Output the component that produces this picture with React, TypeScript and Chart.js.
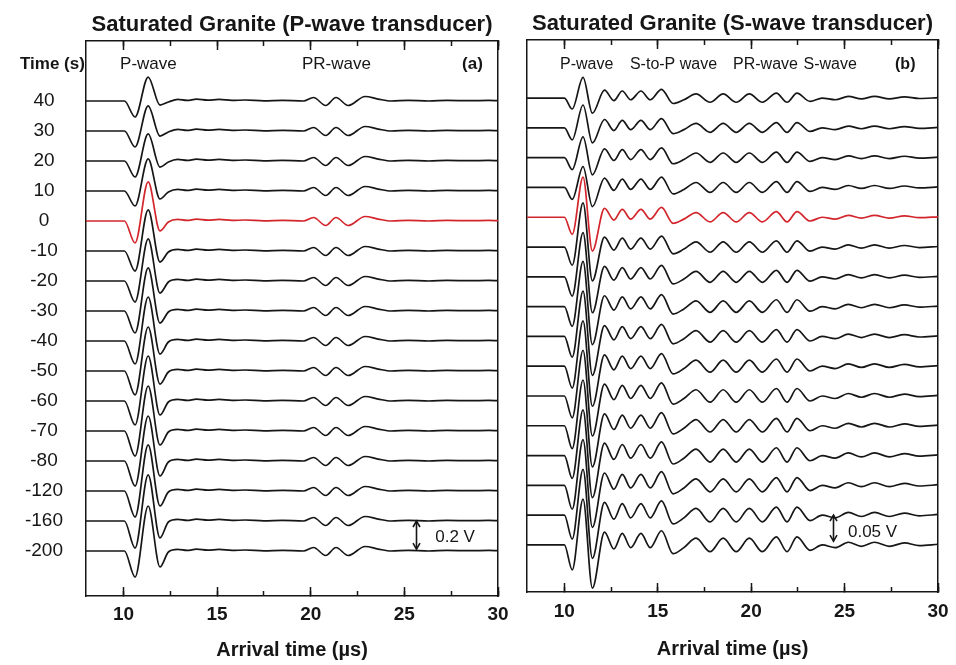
import React, { useEffect, useRef } from "react";
import { Chart, registerables } from "chart.js";

Chart.register(...registerables);

const FF = "'Liberation Sans', Arial, Helvetica, sans-serif";
const INK = "#161616";
const RED = "#d3262c";

// ---------- shared ----------
const timeLabels = ["40", "30", "20", "10", "0", "-10", "-20", "-30", "-40", "-50", "-60", "-70", "-80", "-120", "-160", "-200"];
const redTrace = 4; // the "0 s" trace
const xMin = 8;
const xMax = 30;
const xMajorStep = 5;
const xMinorStep = 2.5;

// ---------- panel (a): P-wave transducer (amplitudes in mV) ----------
const leftTitle = "Saturated Granite (P-wave transducer)";
const leftSpacingMv = 214;
const leftScaleBarMv = 200;
const leftTimes = [8, 10.05, 10.62, 11.32, 11.95, 12.4, 12.9, 13.4, 13.9, 14.5, 15.1, 15.8, 16.5, 17.5, 18.5, 19.6, 20.15, 20.8, 21.35, 22.0, 22.9, 23.6, 24.3, 25.2, 26.3, 27.3, 28.5, 29.5, 30];
const leftTroughMv = [114, 114, 114, 107, 157, 143, 150, 157, 164, 171, 171, 179, 179, 186, 193, 186];
const leftPeakMv = [171, 179, 193, 229, 279, 293, 300, 307, 314, 314, 321, 321, 321, 329, 329, 321];
const leftUndershootMv = [29, 36, 43, 57, 71, 79, 86, 86, 93, 93, 100, 100, 107, 107, 121, 114];
const leftCodaMv = [-7, 11, 4, 13, 6, 11, 4, 7, 1, 4, 0, 25, -32, 25, -32, 32, 14, 0, 4, 0, 4, 2, 4, 2];

// ---------- panel (b): S-wave transducer (amplitudes in mV) ----------
const rightTitle = "Saturated Granite (S-wave transducer)";
const rightSpacingMv = 57.3;
const rightScaleBarMv = 50;
const rightTimes = [8, 10.0, 10.42, 11.0, 11.5, 12.15, 12.65, 13.1, 13.55, 14.1, 14.6, 15.2, 15.82, 16.4, 17.05, 17.8, 18.5, 19.2, 19.9, 20.6, 21.35, 21.92, 22.45, 23.15, 23.8, 24.5, 25.2, 25.9, 26.6, 27.4, 28.2, 29.0, 30];
const rightTroughMv = [21, 23, 23, 23, 33, 35, 37, 38, 40, 42, 42, 44, 44, 46, 46, 48];
const rightPeakMv = [40, 44, 40, 40, 77, 85, 85, 87, 87, 87, 88, 88, 88, 88, 88, 88];
const rightTrough2Mv = [29, 29, 33, 37, 65, 65, 69, 73, 75, 77, 77, 79, 81, 81, 83, 83];
const rightCodaMv = [19, -6, 17, -4, 17, -4, 21, -13, -4, 10, -10, 10, -10, 10, -10, 12, -10, 12, -8, 0, -4, 4, -2, 4, -2, 3, -1, 1];
const rightCodaGain = [0.8, 0.85, 0.9, 0.95, 0.9, 1.0, 1.05, 1.1, 1.1, 1.15, 1.2, 1.2, 1.25, 1.25, 1.3, 1.3];

function buildDatasets(times: number[], amps: number[][], spacing: number) {
  return amps.map((a, i) => ({
    label: timeLabels[i] + " s",
    data: times.map((t, k) => ({ x: t, y: -i * spacing + a[k] })),
    borderColor: i === redTrace ? RED : INK,
    borderWidth: 1.7,
    pointRadius: 0,
    fill: false,
    cubicInterpolationMode: "monotone",
  }));
}

const leftAmps = timeLabels.map((_, i) => [0, 0, -leftTroughMv[i], leftPeakMv[i], -leftUndershootMv[i], ...leftCodaMv]);
const rightAmps = timeLabels.map((_, i) => [0, 0, -rightTroughMv[i], rightPeakMv[i], -rightTrough2Mv[i], ...rightCodaMv.map((v) => v * rightCodaGain[i])]);

type Label = { text: string; x: number; bold?: boolean };

type Spec = {
  datasets: any[];
  spacing: number;
  yTopSpacings: number;
  yBottomSpacings: number;
  padLeft: number;
  padRight: number;
  leftW: number;
  topH: number;
  bottomH: number;
  xTickPad: number;
  xTitlePad: number;
  showYLabels: boolean;
  title: string;
  titleBaseline: number;
  labels: Label[];
  labelSize: number;
  scaleBarX: number;
  scaleBarMv: number;
  scaleBarText: string;
  scaleBarTextX: number;
  scaleBarTextDy: number;
};

function arrowHead(ctx: CanvasRenderingContext2D, x: number, y: number, dir: number) {
  ctx.beginPath();
  ctx.moveTo(x - 3.5, y + dir * 6);
  ctx.lineTo(x, y);
  ctx.lineTo(x + 3.5, y + dir * 6);
  ctx.stroke();
}

function fixSize(s: any, w: number | null, h: number | null) {
  if (w !== null) s.width = w;
  if (h !== null) s.height = h;
  s.paddingLeft = 0;
  s.paddingRight = 0;
  s.paddingTop = 0;
  s.paddingBottom = 0;
}

function makeConfig(p: Spec): any {
  const yMax = p.yTopSpacings * p.spacing;
  const yMin = -(15 + p.yBottomSpacings) * p.spacing;
  const annot = {
    id: "annot",
    afterDraw(chart: any) {
      const { ctx, chartArea, scales } = chart;
      const xs = scales.x;
      const ys = scales.y;
      ctx.save();
      ctx.fillStyle = INK;
      ctx.textBaseline = "alphabetic";
      ctx.textAlign = "center";
      ctx.font = `bold 22px ${FF}`;
      ctx.fillText(p.title, (chartArea.left + chartArea.right) / 2, p.titleBaseline);
      ctx.textAlign = "left";
      if (p.showYLabels) {
        ctx.font = `bold 17px ${FF}`;
        ctx.fillText("Time (s)", 20, 69);
      }
      for (const l of p.labels) {
        ctx.font = `${l.bold ? "bold " : ""}${p.labelSize}px ${FF}`;
        ctx.fillText(l.text, xs.getPixelForValue(l.x), 69);
      }
      // scale bar
      const base = -14 * p.spacing;
      const ax = Math.round(xs.getPixelForValue(p.scaleBarX)) + 0.5;
      const y1 = ys.getPixelForValue(base);
      const y2 = ys.getPixelForValue(base - p.scaleBarMv);
      ctx.strokeStyle = INK;
      ctx.lineWidth = 1.6;
      ctx.beginPath();
      ctx.moveTo(ax, y1);
      ctx.lineTo(ax, y2);
      ctx.stroke();
      arrowHead(ctx, ax, y1, 1);
      arrowHead(ctx, ax, y2, -1);
      ctx.font = `17px ${FF}`;
      ctx.textBaseline = "middle";
      ctx.fillText(p.scaleBarText, xs.getPixelForValue(p.scaleBarTextX), (y1 + y2) / 2 + p.scaleBarTextDy);
      ctx.restore();
    },
  };

  const tickFont = { family: FF, size: 19, weight: "bold" };
  return {
    type: "line",
    data: { datasets: p.datasets },
    options: {
      animation: false,
      responsive: false,
      devicePixelRatio: 1,
      layout: { padding: { left: p.padLeft, right: p.padRight, top: 0, bottom: 0 } },
      plugins: { legend: { display: false }, tooltip: { enabled: false }, title: { display: false } },
      scales: {
        x: {
          type: "linear",
          position: "bottom",
          weight: 1,
          min: xMin,
          max: xMax,
          ticks: { stepSize: xMajorStep, includeBounds: false, autoSkip: false, maxRotation: 0, font: tickFont, color: INK, padding: p.xTickPad },
          grid: { drawOnChartArea: false, tickLength: -9, tickWidth: 1.5, tickColor: INK },
          border: { display: true, color: INK, width: 1.5 },
          title: { display: true, text: "Arrival time (µs)", color: INK, font: { family: FF, size: 20, weight: "bold" }, padding: { top: 0, bottom: p.xTitlePad } },
          afterFit: (s: any) => fixSize(s, null, p.bottomH),
        },
        xMinor: {
          type: "linear",
          position: "bottom",
          weight: 0,
          min: xMin,
          max: xMax,
          ticks: { stepSize: xMinorStep, includeBounds: false, autoSkip: false, display: false },
          grid: { drawOnChartArea: false, tickLength: -5, tickWidth: 1.5, tickColor: INK },
          border: { display: false },
          afterFit: (s: any) => fixSize(s, null, 0),
        },
        xTop: {
          type: "linear",
          position: "top",
          weight: 1,
          min: xMin,
          max: xMax,
          ticks: { stepSize: xMajorStep, includeBounds: false, autoSkip: false, display: false },
          grid: { drawOnChartArea: false, tickLength: -9, tickWidth: 1.5, tickColor: INK },
          border: { display: true, color: INK, width: 1.5 },
          afterFit: (s: any) => fixSize(s, null, p.topH),
        },
        xTopMinor: {
          type: "linear",
          position: "top",
          weight: 0,
          min: xMin,
          max: xMax,
          ticks: { stepSize: xMinorStep, includeBounds: false, autoSkip: false, display: false },
          grid: { drawOnChartArea: false, tickLength: -5, tickWidth: 1.5, tickColor: INK },
          border: { display: false },
          afterFit: (s: any) => fixSize(s, null, 0),
        },
        y: {
          type: "linear",
          position: "left",
          min: yMin,
          max: yMax,
          afterBuildTicks: (s: any) => {
            s.ticks = timeLabels.map((_, i) => ({ value: -i * p.spacing }));
          },
          ticks: {
            display: p.showYLabels,
            autoSkip: false,
            crossAlign: "center",
            padding: 23,
            color: INK,
            font: { family: FF, size: 19 },
            callback: (_v: any, i: number) => timeLabels[i],
          },
          grid: { display: false, drawTicks: false },
          border: { display: true, color: INK, width: 1.5 },
          afterFit: (s: any) => fixSize(s, p.leftW, null),
        },
        yRight: {
          type: "linear",
          position: "right",
          ticks: { display: false },
          grid: { display: false, drawTicks: false },
          border: { display: true, color: INK, width: 1.5 },
          afterFit: (s: any) => fixSize(s, 0, null),
        },
      },
    },
    plugins: [annot],
  };
}

const leftSpec: Spec = {
  datasets: buildDatasets(leftTimes, leftAmps, leftSpacingMv),
  spacing: leftSpacingMv,
  yTopSpacings: 2.0,
  yBottomSpacings: 1.5,
  padLeft: 0,
  padRight: 12,
  leftW: 86,
  topH: 41,
  bottomH: 69,
  xTickPad: 16,
  xTitlePad: 3,
  showYLabels: true,
  title: leftTitle,
  titleBaseline: 31,
  labels: [
    { text: "P-wave", x: 9.82 },
    { text: "PR-wave", x: 19.53 },
    { text: "(a)", x: 28.08, bold: true },
  ],
  labelSize: 17,
  scaleBarX: 25.6,
  scaleBarMv: leftScaleBarMv,
  scaleBarText: "0.2 V",
  scaleBarTextX: 26.65,
  scaleBarTextDy: 2,
};

const rightSpec: Spec = {
  datasets: buildDatasets(rightTimes, rightAmps, rightSpacingMv),
  spacing: rightSpacingMv,
  yTopSpacings: 1.95,
  yBottomSpacings: 1.58,
  padLeft: 17,
  padRight: 18,
  leftW: 0,
  topH: 40,
  bottomH: 73,
  xTickPad: 17,
  xTitlePad: 4,
  showYLabels: false,
  title: rightTitle,
  titleBaseline: 30,
  labels: [
    { text: "P-wave", x: 9.77 },
    { text: "S-to-P wave", x: 13.51 },
    { text: "PR-wave", x: 19.03 },
    { text: "S-wave", x: 22.8 },
    { text: "(b)", x: 27.7, bold: true },
  ],
  labelSize: 16,
  scaleBarX: 24.38,
  scaleBarMv: rightScaleBarMv,
  scaleBarText: "0.05 V",
  scaleBarTextX: 25.18,
  scaleBarTextDy: 4,
};

function Panel({ spec, left, width }: { spec: Spec; left: number; width: number }) {
  const ref = useRef<HTMLCanvasElement | null>(null);
  useEffect(() => {
    const chart = new Chart(ref.current as HTMLCanvasElement, makeConfig(spec));
    return () => chart.destroy();
  }, [spec]);
  return (
    <canvas
      ref={ref}
      width={width}
      height={665}
      style={{ position: "absolute", left, top: 0, width, height: 665 }}
    />
  );
}

export default function App() {
  return (
    <div style={{ position: "absolute", left: 0, top: 0, width: 956, height: 665, background: "#fff", overflow: "hidden" }}>
      <Panel spec={leftSpec} left={0} width={510} />
      <Panel spec={rightSpec} left={510} width={446} />
    </div>
  );
}
